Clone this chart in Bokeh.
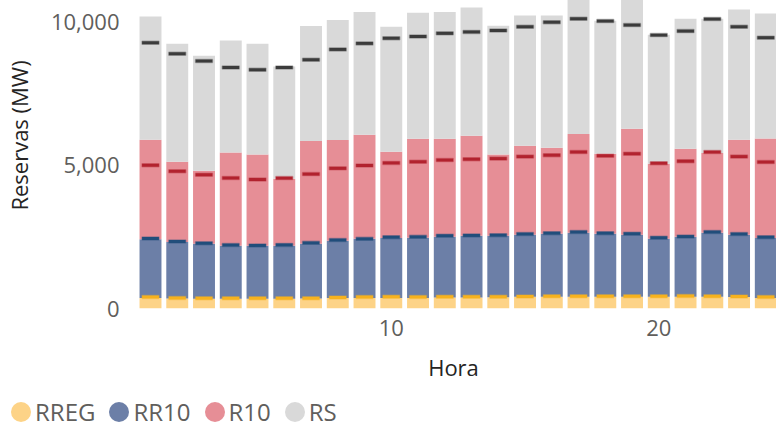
from bokeh.plotting import figure
from bokeh.models import ColumnDataSource, FixedTicker, NumeralTickFormatter, Range1d, Legend, LegendItem
from bokeh.embed import file_html
from bokeh.resources import INLINE

# ---- data (MW) ----
horas = list(range(1, 25))
rreg = [370, 350, 340, 340, 340, 340, 345, 370, 370, 370, 370, 380,
        380, 390, 410, 410, 410, 410, 410, 410, 410, 410, 400, 370]
rr10 = [2050, 1970, 1920, 1850, 1850, 1850, 1910, 1990, 2060, 2090, 2100, 2120,
        2160, 2150, 2160, 2200, 2230, 2200, 2160, 2020, 2090, 2230, 2170, 2090]
r10 = [3470, 2800, 2550, 3250, 3180, 2340, 3590, 3520, 3630, 3010, 3450, 3420,
       3490, 2830, 3110, 3000, 3450, 2790, 3700, 2620, 3070, 2790, 3320, 3470]
rs = [4300, 4120, 4010, 3910, 3870, 3910, 4010, 4190, 4290, 4360, 4400, 4430,
      4470, 4500, 4540, 4610, 4750, 4640, 4630, 4500, 4540, 4680, 4540, 4360]

# required levels (cumulative), shown as dashes
req_rreg = [400, 370, 360, 360, 360, 360, 360, 385, 400, 410, 400, 410,
            410, 410, 420, 430, 430, 430, 430, 430, 440, 430, 420, 400]
req_rr10 = [2440, 2340, 2280, 2220, 2200, 2220, 2290, 2390, 2430, 2490, 2500, 2540,
            2550, 2560, 2600, 2630, 2670, 2630, 2610, 2470, 2510, 2670, 2600, 2490]
req_r10 = [5000, 4790, 4670, 4550, 4500, 4550, 4690, 4890, 4990, 5080, 5120, 5180,
           5210, 5230, 5300, 5350, 5460, 5330, 5400, 5070, 5140, 5460, 5300, 5110]
req_rs = [9270, 8890, 8640, 8410, 8330, 8410, 8680, 9040, 9250, 9430, 9490, 9600,
          9650, 9700, 9830, 9990, 10110, 10030, 9890, 9540, 9680, 10100, 9830, 9450]

series = ["RREG", "RR10", "R10", "RS"]
bar_colors = ["#FDD387", "#6C7FA7", "#E68E96", "#D9D9D9"]
dash_colors = ["#F7B21E", "#214E7B", "#B2232F", "#3C3C3C"]
x_ticks = [10, 20]
y_ticks = [0, 5000, 10000]

src = ColumnDataSource(dict(hora=horas, RREG=rreg, RR10=rr10, R10=r10, RS=rs,
                            req_RREG=req_rreg, req_RR10=req_rr10,
                            req_R10=req_r10, req_RS=req_rs))

FONT = "Open Sans"
W = 776
TOP_HIDDEN = 38          # plot area continues above the visible window, as in the reference
FRAME_H = 346
BOTTOM = 81
H_MAIN = TOP_HIDDEN + 308 + BOTTOM   # 427 -> visible 0..389
H_LEG = 40                            # 389..429

p = figure(width=W, height=H_MAIN, output_backend="svg", toolbar_location=None,
           x_range=Range1d(0.2523, 24.4), y_range=Range1d(0, 12073),
           min_border_left=130, min_border_right=0, min_border_top=0,
           min_border_bottom=BOTTOM)
p.styles = {"margin-top": f"-{TOP_HIDDEN}px"}

p.vbar_stack(series, x="hora", width=0.82, color=bar_colors, line_color=None, source=src)

for s, c in zip(series, dash_colors):
    p.rect(x="hora", y="req_" + s, width=0.63, height=3, height_units="screen",
           fill_color=c, line_color=c, line_alpha=0.35, line_width=1.5, source=src)

p.xgrid.visible = False
p.ygrid.visible = False
p.outline_line_color = None

for ax in (p.xaxis[0], p.yaxis[0]):
    ax.axis_line_color = None
    ax.major_tick_line_color = None
    ax.minor_tick_line_color = None
    ax.major_tick_out = 0
    ax.major_tick_in = 0
    ax.minor_tick_out = 0
    ax.major_label_text_font = FONT
    ax.major_label_text_font_size = "22px"
    ax.major_label_text_color = "#605E5C"
    ax.axis_label_text_font = FONT
    ax.axis_label_text_font_size = "22px"
    ax.axis_label_text_font_style = "normal"
    ax.axis_label_text_color = "#252423"

p.xaxis.ticker = FixedTicker(ticks=x_ticks)
p.yaxis.ticker = FixedTicker(ticks=y_ticks)
p.yaxis.formatter = NumeralTickFormatter(format="0,0")
p.xaxis.axis_label = "Hora"
p.yaxis.axis_label = "Reservas (MW)"
p.xaxis.major_label_standoff = 11
p.xaxis.axis_label_standoff = 13
p.yaxis.major_label_standoff = 11
p.yaxis.axis_label_standoff = 14

# ---- legend strip (own small figure; its marker glyphs lie outside its view) ----
pl = figure(width=W, height=H_LEG, output_backend="svg", toolbar_location=None,
            x_range=Range1d(0.2523, 24.4), y_range=Range1d(-1, 0),
            x_axis_location=None, y_axis_location=None,
            min_border_left=0, min_border_right=0, min_border_top=0, min_border_bottom=0)
pl.xgrid.visible = False
pl.ygrid.visible = False
pl.outline_line_color = None

items = []
for s, c in zip(series, bar_colors):
    r = pl.ellipse(x="hora", y=s, width=1, height=1, width_units="screen",
                   height_units="screen", fill_color=c, line_color=None, source=src)
    items.append(LegendItem(label=s, renderers=[r]))

legend = Legend(items=items, orientation="horizontal", location=(8, 1),
                glyph_width=25, glyph_height=33, label_standoff=2, spacing=11,
                padding=0, margin=0, border_line_color=None, background_fill_alpha=0,
                label_text_font=FONT, label_text_font_size="24px",
                label_text_color="#605E5C")
pl.add_layout(legend)

open("out.html", "w").write(file_html([p, pl], INLINE))
